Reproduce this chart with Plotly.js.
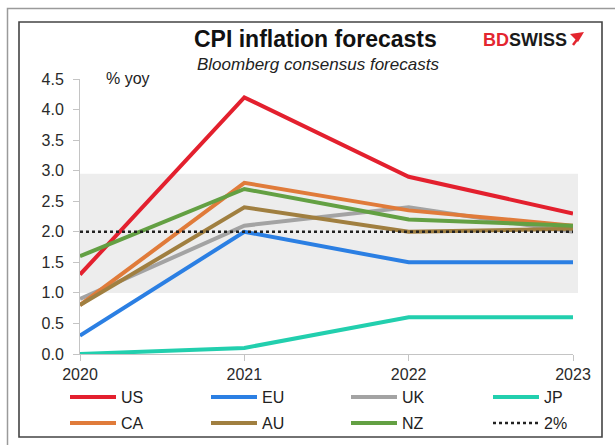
<!DOCTYPE html>
<html>
<head>
<meta charset="utf-8">
<script src="https://cdn.plot.ly/plotly-3.0.1.min.js"></script>
<style>html,body{margin:0;padding:0;background:#fff;}#chart{width:615px;height:445px;}</style>
</head>
<body>
<div id="chart"></div>
<script>
// ---- data ----
const years = [2020, 2021, 2022, 2023];
const US = [1.3, 4.2, 2.9, 2.3];
const EU = [0.3, 2.0, 1.5, 1.5];
const UK = [0.9, 2.1, 2.4, 2.0];
const JP = [0.0, 0.1, 0.6, 0.6];
const CA = [0.8, 2.8, 2.35, 2.1];
const AU = [0.8, 2.4, 2.0, 2.05];
const NZ = [1.6, 2.7, 2.2, 2.1];
const TARGET = [2.0, 2.0, 2.0, 2.0];
const seriesNames = ['US', 'EU', 'UK', 'JP', 'CA', 'AU', 'NZ', '2%'];
const targetBand = [1.0, 2.95];
const yTicks = [0, 0.5, 1, 1.5, 2, 2.5, 3, 3.5, 4, 4.5];

// ---- layout geometry ----
const W = 615, H = 445;
const M = {l: 80, r: 42, t: 79, b: 91, autoexpand: false};
const PW = W - M.l - M.r, PH = H - M.t - M.b;
const px = x => (x - M.l) / PW;
const py = y => (H - M.b - y) / PH;

const colors = {
  US: '#e3202e', EU: '#2b7fe3', UK: '#a3a3a3', JP: '#22cfae',
  CA: '#e07b3a', AU: '#a07f40', NZ: '#63a043', '2%': '#222'
};
const font = '"Liberation Sans", Arial, sans-serif';

// legend slot for each series: column x (px) and row y (px)
const legendCols = [65, 206, 346, 488];
const legendRows = [397, 423];

const values = [US, EU, UK, JP, CA, AU, NZ, TARGET];
const data = seriesNames.map((name, i) => ({
  x: years, y: values[i], name: name, type: 'scatter', mode: 'lines',
  line: name === '2%' ? {color: colors[name], width: 2.5, dash: 'dot'}
                      : {color: colors[name], width: 4},
  legend: i === 0 ? 'legend' : 'legend' + (i + 1), hoverinfo: 'skip'
}));

const layout = {
  width: W, height: H,
  margin: M,
  paper_bgcolor: '#fff', plot_bgcolor: '#fff',
  showlegend: true,
  xaxis: {
    range: [2020, 2023], tickvals: years, ticktext: years.map(String),
    showgrid: false, zeroline: false, showline: true, linecolor: '#c4c4c4', linewidth: 1,
    ticks: 'outside', ticklen: 6, tickcolor: '#c4c4c4',
    tickfont: {family: font, size: 16, color: '#2a2a2a'}, fixedrange: true
  },
  yaxis: {
    range: [0, 4.5], tickvals: yTicks, tickformat: '.1f',
    showgrid: false, zeroline: false, showline: true, linecolor: '#c4c4c4', linewidth: 1,
    ticks: 'outside', ticklen: 6, tickcolor: '#c4c4c4', ticklabelstandoff: 6,
    tickfont: {family: font, size: 16, color: '#2a2a2a'}, fixedrange: true
  },
  shapes: [
    {type: 'rect', xref: 'paper', yref: 'y', x0: 0, x1: px(578), y0: targetBand[0], y1: targetBand[1],
     fillcolor: '#ededed', line: {width: 0}, layer: 'below'},
    {type: 'rect', xref: 'paper', yref: 'paper', x0: px(7.5), x1: px(625), y0: py(8.5), y1: py(455),
     line: {color: '#9a9a9a', width: 1.5}, fillcolor: 'rgba(0,0,0,0)'},
    {type: 'rect', xref: 'paper', yref: 'paper', x0: px(19), x1: px(602), y0: py(22), y1: py(437),
     line: {color: '#444', width: 1.6}, fillcolor: 'rgba(0,0,0,0)'},
    {type: 'path', xref: 'paper', yref: 'paper',
     path: 'M' + px(570) + ',' + py(34) + ' L' + px(584) + ',' + py(32) + ' L' + px(578) + ',' + py(42) + ' Z',
     fillcolor: '#e3262f', line: {width: 0}},
    {type: 'line', xref: 'paper', yref: 'paper', x0: px(579), y0: py(37), x1: px(573), y1: py(45),
     line: {color: '#e3262f', width: 2.5}}
  ],
  annotations: [
    {text: '<b>CPI inflation forecasts</b>', xref: 'paper', yref: 'paper', x: px(315), y: py(39),
     showarrow: false, xanchor: 'center', yanchor: 'middle', font: {family: font, size: 23, color: '#111'}},
    {text: '<i>Bloomberg consensus forecasts</i>', xref: 'paper', yref: 'paper', x: px(318), y: py(64),
     showarrow: false, xanchor: 'center', yanchor: 'middle', font: {family: font, size: 17, color: '#222'}},
    {text: '% yoy', xref: 'paper', yref: 'paper', x: px(128), y: py(78),
     showarrow: false, xanchor: 'center', yanchor: 'middle', font: {family: font, size: 16, color: '#222'}},
    {text: '<b><span style="color:#e3262f">BD</span>SWISS</b>', xref: 'paper', yref: 'paper', x: px(569), y: py(40),
     showarrow: false, xanchor: 'right', yanchor: 'middle', font: {family: font, size: 18, color: '#1a1a1a'}}
  ]
};

seriesNames.forEach((name, i) => {
  const key = i === 0 ? 'legend' : 'legend' + (i + 1);
  layout[key] = {
    x: px(legendCols[i % 4]), y: py(legendRows[Math.floor(i / 4)]),
    xanchor: 'left', yanchor: 'middle', orientation: 'h',
    font: {family: font, size: 16, color: '#222'},
    itemwidth: 46, bgcolor: 'rgba(0,0,0,0)', borderwidth: 0
  };
});

Plotly.newPlot('chart', data, layout, {staticPlot: true, displayModeBar: false});
</script>
</body>
</html>
